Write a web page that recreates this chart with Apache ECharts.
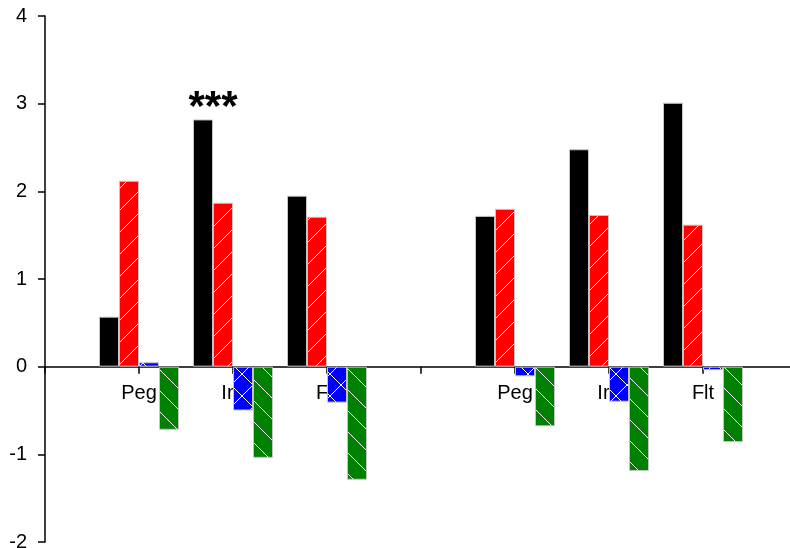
<!DOCTYPE html>
<html>
<head>
<meta charset="utf-8">
<script src="https://cdn.jsdelivr.net/npm/echarts@6/dist/echarts.min.js"></script>
<style>
  html, body { margin: 0; padding: 0; background: #fff; }
  #chart { width: 790px; height: 548px; }
</style>
</head>
<body>
<div id="chart"></div>
<script>
// Category slots: empty slots at both ends and between the two groups
const categories = ['', 'Peg', 'Ir\u00a0\u00a0', 'Flt', '', 'Peg', 'Ir\u00a0\u00a0', 'Flt', ''];

const blackValues = [null, 0.57, 2.82, 1.95, null, 1.72, 2.48, 3.01, null];
const redValues   = [null, 2.12, 1.87, 1.71, null, 1.80, 1.73, 1.62, null];
const blueValues  = [null, 0.05, -0.50, -0.41, null, -0.11, -0.40, -0.04, null];
const greenValues = [null, -0.72, -1.04, -1.29, null, -0.68, -1.19, -0.86, null];

// Significance marks shown above the black bars
const significance = ['', '', '***', '', '', '', '', '', ''];

const yMin = -2, yMax = 4, yStep = 1;

const gridLeft = 45, gridTop = 16, gridWidth = 752, gridHeight = 526;
// Shift the category axis up so it runs along y = 0
const zeroOffset = -gridHeight * (0 - yMin) / (yMax - yMin);

// Hatched fill tiles: '/' forward, '\\' backward
function hatchTile(bg, size, dirs) {
  const c = document.createElement('canvas');
  c.width = size; c.height = size;
  const ctx = c.getContext('2d');
  ctx.fillStyle = bg;
  ctx.fillRect(0, 0, size, size);
  ctx.strokeStyle = '#ffffff';
  ctx.lineWidth = 1;
  dirs.forEach(function (d) {
    [-size, 0, size].forEach(function (o) {
      ctx.beginPath();
      if (d === '/') { ctx.moveTo(o, size); ctx.lineTo(o + size, 0); }
      else { ctx.moveTo(o, 0); ctx.lineTo(o + size, size); }
      ctx.stroke();
    });
  });
  return c;
}

const redFill = { image: hatchTile('#ff0000', 22, ['/']), repeat: 'repeat' };
const blueFill = { image: hatchTile('#0000ff', 22, ['/', '\\']), repeat: 'repeat' };
const greenFill = { image: hatchTile('#008000', 21, ['\\']), repeat: 'repeat' };

const edge = { borderColor: '#c4c4c4', borderWidth: 1 };

const chart = echarts.init(document.getElementById('chart'), null, { renderer: 'canvas' });

chart.setOption({
  animation: false,
  backgroundColor: '#ffffff',
  grid: {
    left: gridLeft, top: gridTop, width: gridWidth, height: gridHeight,
    containLabel: false, outerBoundsMode: 'none'
  },
  xAxis: {
    type: 'category',
    data: categories,
    boundaryGap: false,
    position: 'bottom',
    offset: zeroOffset,
    axisLine: { onZero: false, lineStyle: { color: '#000', width: 1.5 } },
    axisTick: { show: true, length: 7, interval: 0, lineStyle: { color: '#000', width: 1.5 } },
    axisLabel: {
      interval: 0, margin: 17, fontSize: 20, color: '#000',
      fontFamily: 'Liberation Sans, Arial, sans-serif'
    },
    splitLine: { show: false }
  },
  yAxis: {
    type: 'value',
    min: yMin, max: yMax, interval: yStep,
    axisLine: { show: true, onZero: false, lineStyle: { color: '#000', width: 1.5 } },
    axisTick: { show: true, length: 7, lineStyle: { color: '#000', width: 1.5 } },
    axisLabel: {
      margin: 18, fontSize: 20, color: '#000',
      fontFamily: 'Liberation Sans, Arial, sans-serif'
    },
    splitLine: { show: false }
  },
  series: [
    {
      type: 'bar', name: 'black', data: blackValues,
      barWidth: 20, barGap: '0%',
      itemStyle: Object.assign({ color: '#000000' }, edge),
      label: {
        show: true, position: 'top', distance: 2, offset: [10, 12],
        formatter: function (p) { return significance[p.dataIndex]; },
        fontSize: 42, fontWeight: 'bold', color: '#000',
        fontFamily: 'Liberation Sans, Arial, sans-serif'
      }
    },
    {
      type: 'bar', name: 'red', data: redValues,
      barWidth: 20, barGap: '0%',
      itemStyle: Object.assign({ color: redFill }, edge)
    },
    {
      type: 'bar', name: 'blue', data: blueValues,
      barWidth: 20, barGap: '0%',
      itemStyle: Object.assign({ color: blueFill }, edge)
    },
    {
      type: 'bar', name: 'green', data: greenValues,
      barWidth: 20, barGap: '0%',
      itemStyle: Object.assign({ color: greenFill }, edge)
    }
  ]
});
</script>
</body>
</html>
